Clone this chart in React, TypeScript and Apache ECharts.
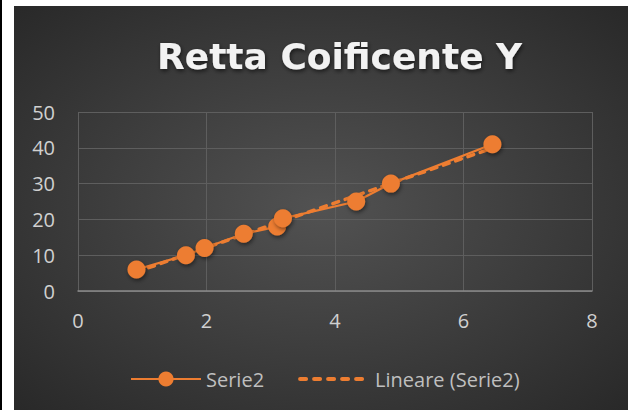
import React, { useEffect, useRef } from "react";
import * as echarts from "echarts";

const titleText = "Retta Coificente Y";
const seriesName = "Serie2";
const trendName = "Lineare (Serie2)";
const xValues = [0.91, 1.68, 1.97, 2.58, 3.1, 3.19, 4.33, 4.87, 6.45];
const yValues = [6, 10, 12, 16, 18, 20.3, 25, 30, 41];
const xTicks = [0, 2, 4, 6, 8];
const yTicks = [0, 10, 20, 30, 40, 50];

function linearFit(xs: number[], ys: number[]) {
  const n = xs.length;
  const mx = xs.reduce((a, b) => a + b, 0) / n;
  const my = ys.reduce((a, b) => a + b, 0) / n;
  let sxy = 0;
  let sxx = 0;
  for (let i = 0; i < n; i++) {
    sxy += (xs[i] - mx) * (ys[i] - my);
    sxx += (xs[i] - mx) * (xs[i] - mx);
  }
  const slope = sxy / sxx;
  return { slope, intercept: my - slope * mx };
}

export default function App() {
  const ref = useRef<HTMLDivElement>(null);
  useEffect(() => {
    if (!ref.current) return;
    const chart = echarts.init(ref.current, undefined, { renderer: "svg" });
    const fit = linearFit(xValues, yValues);
    const xMin = Math.min(...xValues);
    const xMax = Math.max(...xValues);
    const trend = [
      [xMin, fit.intercept + fit.slope * xMin],
      [xMax, fit.intercept + fit.slope * xMax],
    ];
    const orange = "#ED7D31";
    const font = "'Open Sans', 'Noto Sans', sans-serif";
    chart.setOption({
      animation: false,
      backgroundColor: new echarts.graphic.RadialGradient(0.5, 0.5, 0.75, [
        { offset: 0, color: "#525252" },
        { offset: 1, color: "#262626" },
      ]),
      title: {
        text: titleText,
        left: 138,
        top: 27,
        textStyle: {
          color: "#f2f2f2",
          fontSize: 36,
          fontWeight: "bold",
          fontFamily: "'DejaVu Sans', sans-serif",
          textShadowColor: "rgba(0,0,0,0.6)",
          textShadowBlur: 4,
          textShadowOffsetX: 1,
          textShadowOffsetY: 2,
        },
      },
      grid: { left: 64, right: 36, top: 106, bottom: 119, containLabel: false },
      legend: {
        top: 358,
        left: 111,
        itemWidth: 70,
        itemHeight: 19,
        itemGap: 34,
        textStyle: { color: "#bfbfbf", fontSize: 20, fontFamily: font },
        data: [
          { name: seriesName },
          {
            name: trendName,
            itemStyle: { opacity: 0 },
            lineStyle: { width: 4, type: [6, 8], cap: "round" },
          },
        ],
      },
      xAxis: {
        type: "value",
        min: xTicks[0],
        max: xTicks[xTicks.length - 1],
        interval: 2,
        axisLine: { show: true, lineStyle: { color: "#8a8a8a", width: 1.5 } },
        axisTick: { show: false },
        axisLabel: { color: "#d0d0d0", fontSize: 20, fontFamily: font, margin: 19 },
        splitLine: { show: true, lineStyle: { color: "#5e5e5e", width: 1 } },
      },
      yAxis: {
        type: "value",
        min: yTicks[0],
        max: yTicks[yTicks.length - 1],
        interval: 10,
        axisLine: { show: false },
        axisTick: { show: false },
        axisLabel: { color: "#d0d0d0", fontSize: 20, fontFamily: font, margin: 23 },
        splitLine: { show: true, lineStyle: { color: "#5e5e5e", width: 1 } },
      },
      series: [
        {
          name: trendName,
          type: "line",
          data: trend,
          showSymbol: false,
          symbol: "none",
          color: orange,
          lineStyle: { color: orange, width: 3.5, type: [6, 7], cap: "round" },
          z: 2,
        },
        {
          name: seriesName,
          type: "line",
          data: xValues.map((x, i) => [x, yValues[i]]),
          symbol: "circle",
          symbolSize: 18,
          color: orange,
          lineStyle: { color: orange, width: 2.25 },
          itemStyle: {
            color: orange,
            shadowColor: "rgba(0,0,0,0.5)",
            shadowBlur: 4,
            shadowOffsetX: 1,
            shadowOffsetY: 2,
          },
          z: 3,
        },
      ],
    });
    return () => chart.dispose();
  }, []);
  return (
    <div
      style={{
        position: "fixed",
        left: 0,
        top: 0,
        width: 632,
        height: 410,
        background: "#ffffff",
      }}
    >
      <div style={{ position: "absolute", left: 0, top: 0, width: 2, height: 410, background: "#000" }} />
      <div ref={ref} style={{ position: "absolute", left: 14, top: 6, width: 614, height: 404 }} />
    </div>
  );
}
